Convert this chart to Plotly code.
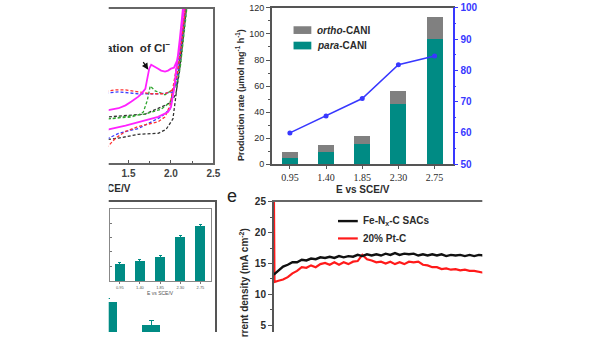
import plotly.graph_objects as go

# ---------------- data ----------------
# Cyclic voltammograms (E vs SCE / V, current in arbitrary units)
cv_mag_v = [1.20, 1.267, 1.465, 1.651, 1.849, 1.965, 2.000, 2.035, 2.070, 2.105, 2.140, 2.163,
            2.175, 2.151, 2.116, 2.093, 2.070, 2.035, 2.000, 1.965, 1.930, 1.884, 1.849, 1.814,
            1.767, 1.744, 1.721, 1.698, 1.651, 1.616, 1.535, 1.465, 1.384, 1.267, 1.20]
cv_mag_i = [33, 35, 39, 43, 48, 53, 58, 76, 100, 130, 160, 180,
            180, 160, 132, 117, 106, 99, 98, 96, 95, 96, 98, 100,
            102, 98, 88, 77, 72, 69, 64, 60, 57, 55, 54]
cv_red_v = [1.20, 1.267, 1.349, 1.465, 1.616, 1.849, 1.930, 1.988, 2.035, 2.081, 2.128, 2.163, 2.18,
            2.19, 2.17, 2.14, 2.105, 2.07, 2.035, 2.000, 1.930, 1.767, 1.616, 1.465, 1.349, 1.267, 1.20]
cv_red_i = [12, 18, 26, 33, 38, 43, 48, 60, 83, 108, 138, 160, 175,
            175, 160, 135, 110, 90, 78, 75, 72, 72, 74, 76, 76, 75, 73]
cv_blue_v = [1.20, 1.267, 1.384, 1.616, 1.884, 1.988, 2.035, 2.081, 2.128, 2.163, 2.18,
             2.19, 2.165, 2.13, 2.093, 2.058, 2.023, 1.988, 1.849, 1.616, 1.384, 1.267, 1.20]
cv_blue_i = [22, 26, 31, 36, 48, 56, 78, 105, 135, 160, 175,
             175, 155, 128, 100, 82, 74, 73, 72, 72, 74, 73, 72]
cv_green_v = [1.20, 1.267, 1.698, 1.884, 1.988, 2.047, 2.093, 2.140, 2.174, 2.19,
              2.20, 2.18, 2.15, 2.11, 2.07, 2.023, 2.000, 1.930, 1.814, 1.756, 1.721, 1.674,
              1.616, 1.535, 1.267, 1.20]
cv_green_i = [45, 46, 51, 56, 63, 80, 105, 135, 160, 175,
              175, 155, 130, 100, 82, 76, 75, 71, 75, 80, 65, 53,
              50, 48, 46, 46]
cv_black_v = [1.20, 1.384, 1.616, 1.849, 1.942, 2.023, 2.058, 2.105, 2.140, 2.170, 2.19,
              2.20, 2.175, 2.14, 2.10, 2.058, 2.000, 1.930, 1.698, 1.267, 1.20]
cv_black_i = [24, 26, 30, 31, 35, 46, 70, 105, 135, 160, 178,
              178, 155, 125, 95, 72, 63, 60, 51, 48, 48]

# Production rate vs potential
potentials = ["0.95", "1.40", "1.85", "2.30", "2.75"]
para_cani = [5.0, 9.5, 15.5, 46.0, 96.0]
ortho_cani = [4.0, 5.5, 6.5, 10.0, 17.0]
selectivity = [60.0, 65.4, 71.0, 81.8, 84.6]

# Inset bars (relative units)
inset_vals = [23, 27, 33, 61, 76]
inset_err = [2, 2, 2, 2, 2]

# Lower-left bar panel
d_pos = [1, 2]
d_vals = [46, 34]
d_err = [2, 2]

# Chronoamperometry (time / h, current density / mA cm-2)
t_fe = [0, 0.2, 0.4, 0.6, 0.8, 1.0, 1.2, 1.4, 1.6, 1.8, 2.0, 2.2, 2.4, 2.6, 2.8, 3.0, 3.2, 3.4,
        3.6, 3.8, 4.0, 4.2, 4.4, 4.6, 4.8, 5.0, 5.2, 5.4, 5.6, 5.8, 6.0, 6.2, 6.4, 6.6, 6.8, 7.0,
        7.2, 7.4, 7.6, 7.8, 8.0, 8.2, 8.4, 8.6, 8.8, 9.0, 9.2]
j_fe = [13.2, 13.9, 14.5, 14.8, 15.2, 15.2, 15.6, 15.5, 15.8, 15.7, 16.0, 15.9, 16.1, 15.9, 16.2,
        16.0, 16.2, 16.1, 16.4, 16.2, 16.5, 16.3, 16.5, 16.3, 16.6, 16.4, 16.7, 16.4, 16.6, 16.5,
        16.6, 16.3, 16.5, 16.3, 16.5, 16.3, 16.5, 16.2, 16.4, 16.3, 16.4, 16.2, 16.4, 16.2, 16.4,
        16.3, 16.3]
t_pt = [0, 0.03, 0.2, 0.4, 0.6, 0.8, 1.0, 1.2, 1.4, 1.6, 1.8, 2.0, 2.2, 2.4, 2.6, 2.8, 3.0, 3.2,
        3.4, 3.6, 3.8, 4.0, 4.2, 4.4, 4.6, 4.8, 5.0, 5.2, 5.4, 5.6, 5.8, 6.0, 6.2, 6.4, 6.6, 6.8,
        7.0, 7.2, 7.4, 7.6, 7.8, 8.0, 8.2, 8.4, 8.6, 8.8, 9.0, 9.2]
j_pt = [30.0, 12.0, 12.2, 12.4, 12.8, 13.4, 13.8, 14.4, 14.3, 14.7, 14.4, 14.9, 15.1, 14.8, 15.2,
        14.8, 15.2, 14.9, 15.3, 15.4, 16.4, 15.7, 15.5, 15.2, 15.3, 15.0, 15.3, 14.9, 15.2, 14.9,
        15.3, 15.2, 15.3, 14.8, 14.7, 14.4, 14.4, 14.1, 14.2, 14.0, 14.1, 13.9, 14.0, 13.8, 13.8,
        13.6, 13.5, 13.4]

# ---------------- styling ----------------
W, H = 600, 338
TEAL = "#008B84"
GRAY = "#808080"
BLUE = "#3838FF"
AX = "#555555"
TXT = "#2b2b2b"
SANS = "Liberation Sans, Arial, sans-serif"
SERIF = "Liberation Serif, Times New Roman, serif"


def fx(px):
    return px / W


def fy(px):
    return 1 - px / H


fig = go.Figure()

# CV curves
dash = "3px,2px"
fig.add_trace(go.Scatter(x=cv_black_v, y=cv_black_i, mode="lines",
                         line=dict(color="#333333", width=1.3, dash=dash), xaxis="x", yaxis="y"))
fig.add_trace(go.Scatter(x=cv_green_v, y=cv_green_i, mode="lines",
                         line=dict(color="#2fa52f", width=1.3, dash=dash), xaxis="x", yaxis="y"))
fig.add_trace(go.Scatter(x=cv_blue_v, y=cv_blue_i, mode="lines",
                         line=dict(color="#3a3aff", width=1.3, dash=dash), xaxis="x", yaxis="y"))
fig.add_trace(go.Scatter(x=cv_red_v, y=cv_red_i, mode="lines",
                         line=dict(color="#ff3030", width=1.3, dash=dash), xaxis="x", yaxis="y"))
fig.add_trace(go.Scatter(x=cv_mag_v, y=cv_mag_i, mode="lines",
                         line=dict(color="#ff22ff", width=1.8), xaxis="x", yaxis="y"))
fig.add_trace(go.Scatter(x=[1.99], y=[118], mode="text", text=["<b>Oxidation  of Cl<sup>−</sup></b>"],
                         textposition="middle left", textfont=dict(family=SANS, size=11.5, color=TXT),
                         cliponaxis=False, xaxis="x", yaxis="y"))

# x-axis title of the CV panel, on a hidden helper axis so the page crop applies to it
fig.add_trace(go.Scatter(x=[0.5], y=[0.5], mode="text", text=["<b>E vs SCE/V</b>"],
                         textposition="middle center", textfont=dict(family=SANS, size=10, color=TXT),
                         xaxis="x7", yaxis="y7"))

# production rate bars + selectivity line
xi = list(range(len(potentials)))
fig.add_trace(go.Bar(x=xi, y=para_cani, width=0.44, marker=dict(color=TEAL, line=dict(width=0)),
                     xaxis="x2", yaxis="y2"))
fig.add_trace(go.Bar(x=xi, y=ortho_cani, width=0.44, marker=dict(color=GRAY, line=dict(width=0)),
                     xaxis="x2", yaxis="y2"))
fig.add_trace(go.Scatter(x=xi, y=selectivity, mode="lines+markers",
                         line=dict(color=BLUE, width=1.5), marker=dict(color=BLUE, size=5),
                         xaxis="x2", yaxis="y3"))

# inset bars
fig.add_trace(go.Bar(x=xi, y=inset_vals, width=0.5, marker=dict(color=TEAL, line=dict(width=0)),
                     error_y=dict(type="data", array=inset_err, color=TEAL, thickness=1, width=1.5),
                     xaxis="x4", yaxis="y4"))

# lower-left bars
fig.add_trace(go.Bar(x=d_pos, y=d_vals, width=0.41, marker=dict(color=TEAL, line=dict(width=0)),
                     error_y=dict(type="data", array=d_err, color=TEAL, thickness=1.2, width=2.5),
                     xaxis="x5", yaxis="y5"))

# chronoamperometry
fig.add_trace(go.Scatter(x=t_pt, y=j_pt, mode="lines", line=dict(color="#ff1a1a", width=2.2),
                         xaxis="x6", yaxis="y6"))
fig.add_trace(go.Scatter(x=t_fe, y=j_fe, mode="lines", line=dict(color="#111111", width=2.4),
                         xaxis="x6", yaxis="y6"))

base = dict(showgrid=False, zeroline=False)

fig.update_layout(
    width=W, height=H, margin=dict(l=0, r=0, t=0, b=0),
    paper_bgcolor="white", plot_bgcolor="rgba(0,0,0,0)", showlegend=False, barmode="stack",
    xaxis=dict(**base, domain=[fx(60), fx(216)], range=[0.686, 2.5], anchor="y",
               tickvals=[1.5, 2.0, 2.5], ticktext=["<b>1.5</b>", "<b>2.0</b>", "<b>2.5</b>"],
               ticks="inside", ticklen=3, tickcolor=AX, tickfont=dict(family=SANS, size=10, color="#444"),
               minor=dict(tickvals=[1.25, 1.75, 2.25], ticks="inside", ticklen=2, tickcolor=AX),
               showline=True, mirror=True, linecolor="#666", linewidth=1.6),
    yaxis=dict(**base, domain=[fy(163), fy(3)], range=[0, 160], anchor="x",
               showticklabels=False, ticks="", showline=True, mirror=True,
               linecolor="#666", linewidth=1.6),
    xaxis2=dict(**base, domain=[fx(275), fx(458)], range=[-0.5, 4.5], anchor="y2",
                tickvals=xi, ticktext=potentials, ticks="outside", ticklen=3, tickcolor=AX,
                tickfont=dict(family=SERIF, size=10, color=TXT),
                showline=True, mirror=True, linecolor=AX, linewidth=1.5),
    yaxis2=dict(**base, domain=[fy(164), fy(2)], range=[0, 120], anchor="x2", dtick=20,
                ticks="outside", ticklen=4, tickcolor=AX, tickfont=dict(family=SANS, size=9, color=TXT),
                minor=dict(dtick=10, ticks="outside", ticklen=2, tickcolor=AX),
                showline=True, linecolor=AX, linewidth=1.5),
    yaxis3=dict(**base, overlaying="y2", side="right", range=[50, 100], anchor="x2", dtick=10,
                ticks="outside", ticklen=4, tickcolor=BLUE,
                tickfont=dict(family=SANS, size=10, color=BLUE, weight="bold"),
                minor=dict(dtick=5, ticks="outside", ticklen=2, tickcolor=BLUE),
                showline=True, linecolor=BLUE, linewidth=1.5),
    xaxis4=dict(**base, domain=[fx(111), fx(213)], range=[-0.5, 4.5], anchor="y4",
                tickvals=xi, ticktext=potentials, ticks="outside", ticklen=2, tickcolor="#777",
                tickfont=dict(family=SANS, size=4, color="#555"),
                title=dict(text="E vs SCE/V", font=dict(family=SANS, size=5, color="#555"), standoff=1),
                showline=True, mirror=True, linecolor="#888", linewidth=1.2),
    yaxis4=dict(**base, domain=[fy(285), fy(210)], range=[0, 100], anchor="x4", dtick=20,
                ticks="inside", ticklen=2, tickcolor="#777", showticklabels=False,
                showline=True, mirror=True, linecolor="#888", linewidth=1.2),
    # outer frame of the lower-left panel: only its top and right edges fall on the page
    xaxis5=dict(**base, domain=[fx(20), fx(218)], range=[-1.023, 3.477], anchor="y5", side="top",
                showticklabels=False, ticks="", showline=True, mirror=False,
                linecolor="#555", linewidth=2),
    yaxis5=dict(**base, domain=[0, fy(203)], range=[30, 100], anchor="x5", side="right",
                showticklabels=False, ticks="", showline=True, mirror=False,
                linecolor="#555", linewidth=2),
    xaxis6=dict(**base, domain=[fx(277), fx(560)], range=[0, 12], anchor="y6", side="top",
                showticklabels=False, ticks="", showline=True, mirror=False,
                linecolor="#666", linewidth=1.6),
    yaxis6=dict(**base, domain=[0, fy(203)], range=[3.906, 25], anchor="x6", dtick=5,
                ticks="outside", ticklen=4, tickcolor=AX,
                tickfont=dict(family=SANS, size=10, color=TXT, weight="bold"),
                minor=dict(dtick=2.5, ticks="outside", ticklen=2, tickcolor=AX),
                showline=True, linecolor=AX, linewidth=1.6),
    # helper axes holding the CV axis title
    xaxis7=dict(domain=[fx(0), fx(210)], range=[0, 1], visible=False, anchor="y7"),
    yaxis7=dict(domain=[fy(198), fy(182)], range=[0, 1], visible=False, anchor="x7"),
)

shapes = [
    # legend swatches for the production-rate panel
    dict(type="rect", xref="paper", yref="paper", x0=fx(297), x1=fx(315), y0=fy(29), y1=fy(21),
         fillcolor=GRAY, line=dict(width=0)),
    dict(type="rect", xref="paper", yref="paper", x0=fx(297), x1=fx(315), y0=fy(45), y1=fy(37),
         fillcolor=TEAL, line=dict(width=0)),
    # legend lines for the stability panel
    dict(type="line", xref="paper", yref="paper", x0=fx(342), x1=fx(362), y0=fy(223), y1=fy(223),
         line=dict(color="#111111", width=2.4)),
    dict(type="line", xref="paper", yref="paper", x0=fx(342), x1=fx(362), y0=fy(241), y1=fy(241),
         line=dict(color="#ff1a1a", width=2.2)),
    # page crop
    dict(type="rect", xref="paper", yref="paper", x0=0, x1=fx(110), y0=0, y1=1,
         fillcolor="white", line=dict(width=0), layer="above"),
    dict(type="rect", xref="paper", yref="paper", x0=fx(488), x1=1, y0=0, y1=1,
         fillcolor="white", line=dict(width=0), layer="above"),
]
fig.update_layout(shapes=shapes)

bold = dict(family=SANS, size=10, color=TXT)
ann = [
    dict(x=fx(243), y=fy(92), text="<b>Production rate (μmol mg<sup>-1</sup> h<sup>-1</sup>)</b>",
         textangle=-90, font=dict(family=SANS, size=9, color=TXT)),
    dict(x=fx(367), y=fy(190), text="<b>E vs SCE/V</b>", font=bold),
    dict(x=fx(319), y=fy(25), text="<b><i>ortho</i>-CANI</b>", xanchor="left", font=bold),
    dict(x=fx(319), y=fy(41), text="<b><i>para</i>-CANI</b>", xanchor="left", font=bold),
    dict(x=fx(235), y=fy(197), text="e", font=dict(family=SANS, size=18, color="#222")),
    dict(x=fx(365), y=fy(223), text="<b>Fe-N<sub>x</sub>-C SACs</b>", xanchor="left", font=bold),
    dict(x=fx(365), y=fy(241), text="<b>20% Pt-C</b>", xanchor="left", font=bold),
    dict(x=fx(246), y=fy(294), text="<b>Current density (mA cm<sup>-2</sup>)</b>",
         textangle=-90, font=bold),
    dict(x=fx(150), y=fy(66), text=" ", showarrow=True, ax=-8, ay=-12, arrowhead=2,
         arrowsize=1, arrowwidth=1.3, arrowcolor="#111", standoff=0),
]
for a in ann:
    a.setdefault("xref", "paper")
    a.setdefault("yref", "paper")
    a.setdefault("showarrow", False)
    a.setdefault("xanchor", "center")
    a.setdefault("yanchor", "middle")
fig.update_layout(annotations=ann)

fig.write_html("out.html")
